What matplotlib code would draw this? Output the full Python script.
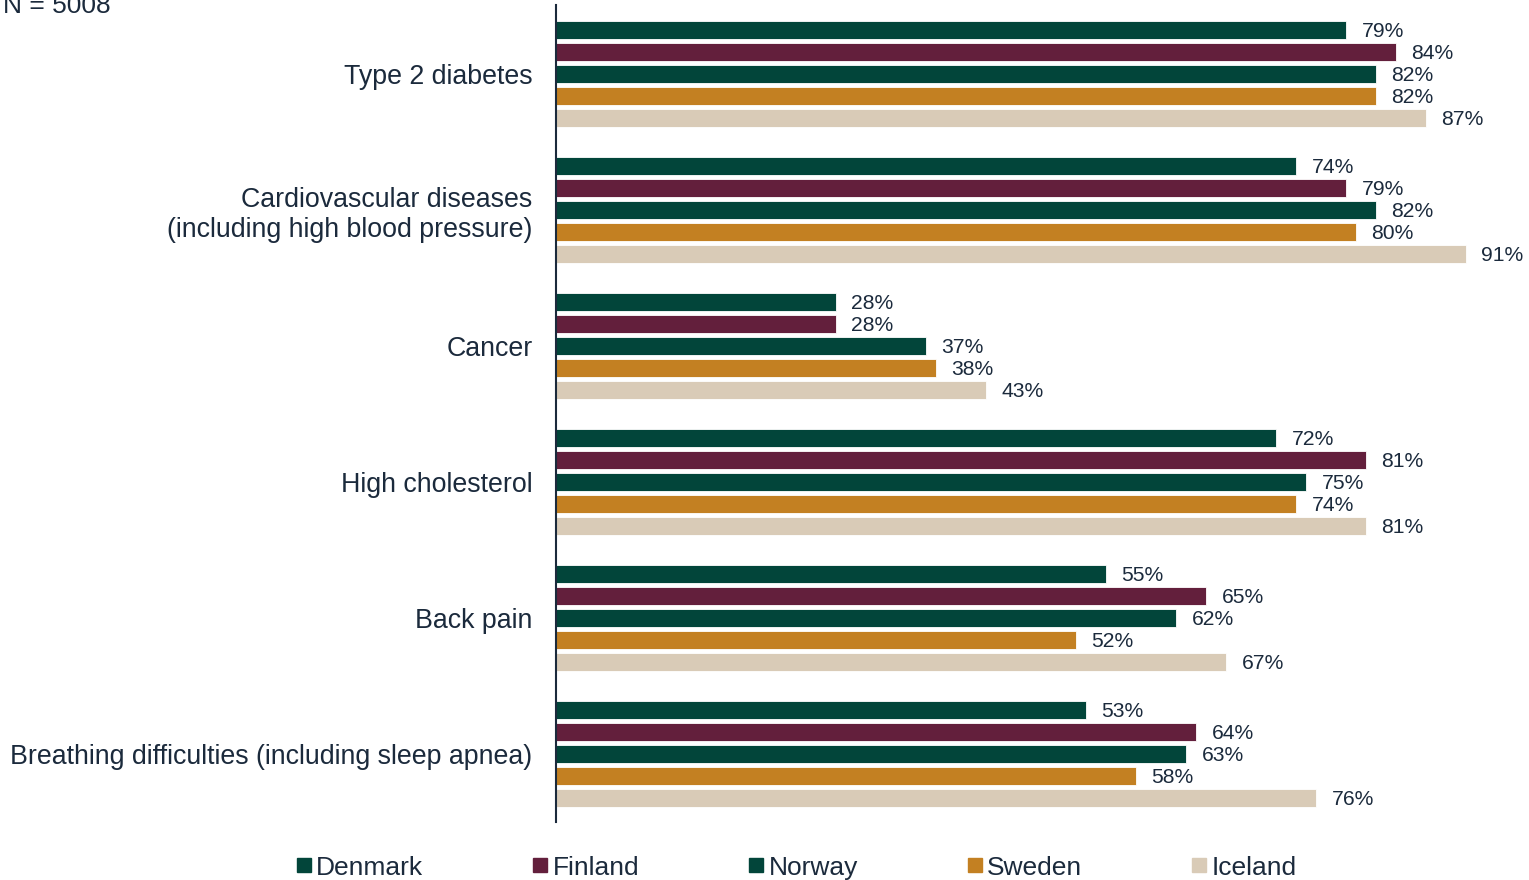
import numpy as np
import matplotlib.pyplot as plt
from matplotlib.lines import Line2D

plt.rcParams['font.family'] = ['Liberation Sans', 'DejaVu Sans']

# data
categories = ['Type 2 diabetes',
              'Cardiovascular diseases\n(including high blood pressure)',
              'Cancer',
              'High cholesterol',
              'Back pain',
              'Breathing difficulties (including sleep apnea)']
countries = ['Denmark', 'Finland', 'Norway', 'Sweden', 'Iceland']
denmark = [79, 74, 28, 72, 55, 53]
finland = [84, 79, 28, 81, 65, 64]
norway = [82, 82, 37, 75, 62, 63]
sweden = [82, 80, 38, 74, 52, 58]
iceland = [87, 91, 43, 81, 67, 76]

colors = ['#02453A', '#631F3C', '#02453A', '#C38022', '#D9CBB7']
txt = '#1B2A3C'

series = [denmark, finland, norway, sweden, iceland]

fig = plt.figure(figsize=(15.29, 8.8), dpi=100)
W, H = 1529, 880
ax = fig.add_axes([556 / W, 1 - 822 / H, (W - 556) / W, (822 - 5) / H])

gap = 136 / 22  # group spacing in bar slots
centers = np.arange(len(categories)) * gap + 2

for k, (vals, c) in enumerate(zip(series, colors)):
    ys = centers + (k - 2)
    ax.barh(ys, vals, height=0.82, color=c, edgecolor='white', linewidth=0.6)
    for y, v in zip(ys, vals):
        ax.text(v + 1.55, y + 0.05, f'{v}%', va='center', ha='left', fontsize=15.2, color=txt)

ax.set_xlim(0, (W - 556) / 10)
ax.set_ylim(centers[-1] + 2 + 24 / 22, -25 / 22)
ax.set_yticks(centers)
ax.set_yticklabels(categories, fontsize=19.3, color=txt, linespacing=1.2)
ax.tick_params(axis='y', length=0, pad=17)
ax.set_xticks([])
for s in ['top', 'right', 'bottom']:
    ax.spines[s].set_visible(False)
ax.spines['left'].set_color(txt)
ax.spines['left'].set_linewidth(1.5)

fig.text(3 / W, 1 - 6 / H, 'N = 5008', fontsize=19, color=txt, va='center', ha='left')

handles = [Line2D([], [], linestyle='none', marker='s', markersize=10, color=c) for c in colors]
leg = fig.legend(handles, countries, loc='center', bbox_to_anchor=(0.521, 0.014), ncol=5,
                 frameon=False, fontsize=19, borderpad=0, handlelength=0.55,
                 handletextpad=0.2, columnspacing=4.15)
for t in leg.get_texts():
    t.set_color(txt)

fig.savefig('out.png', dpi=100)
